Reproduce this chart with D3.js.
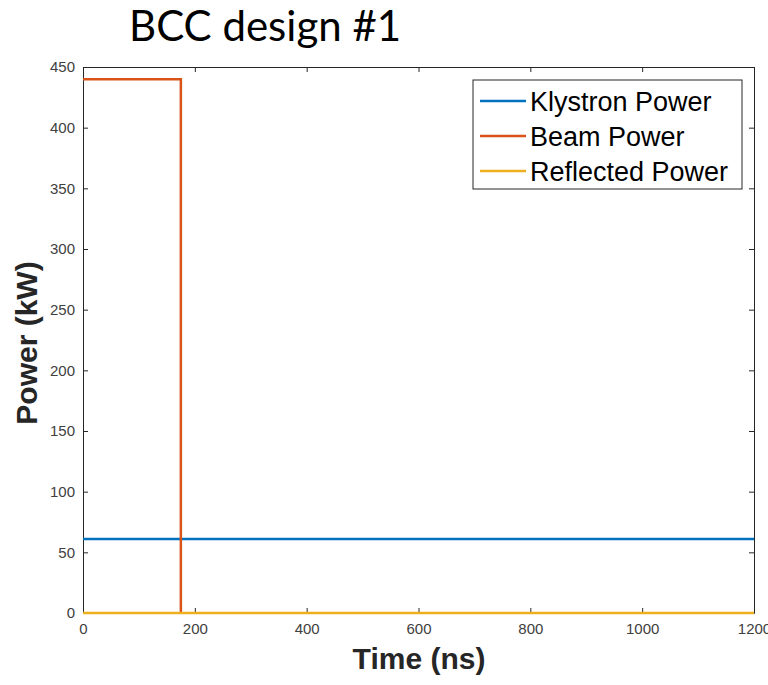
<!DOCTYPE html>
<html><head><meta charset="utf-8">
<script src="https://cdn.jsdelivr.net/npm/d3@7"></script>
<style>body{margin:0;background:#fff}</style>
</head><body>
<svg id="c" width="768" height="685"></svg>
<script>
const title = "BCC design #1";
const xLabel = "Time (ns)";
const yLabel = "Power (kW)";
const seriesNames = ["Klystron Power", "Beam Power", "Reflected Power"];
const seriesColors = ["#0072BD", "#D95319", "#EDB120"];
const klystronT = [0, 1200];
const klystronP = [61, 61];
const beamT = [0, 175, 175];
const beamP = [440, 440, 0];
const reflectedT = [0, 1200];
const reflectedP = [0, 0];
const xTicks = [0, 200, 400, 600, 800, 1000, 1200];
const yTicks = [0, 50, 100, 150, 200, 250, 300, 350, 400, 450];

const svg = d3.select("#c");
const L = 83, R = 754, T = 67, B = 613;
const x = d3.scaleLinear().domain([0, 1200]).range([L, R]);
const y = d3.scaleLinear().domain([0, 450]).range([B, T]);
const axisColor = "#262626";
const tickFont = "Liberation Sans, Arial, sans-serif";

const series = [
  {t: klystronT, p: klystronP},
  {t: beamT, p: beamP},
  {t: reflectedT, p: reflectedP}
];
const line = d3.line().x(d => x(d[0])).y(d => y(d[1]));
const fmt = d3.format("d");
const gx = svg.append("g").attr("transform", `translate(0,${B})`)
  .call(d3.axisBottom(x).tickValues(xTicks).tickFormat(fmt).tickSizeInner(-5).tickSizeOuter(0).tickPadding(10));
const gxt = svg.append("g").attr("transform", `translate(0,${T})`)
  .call(d3.axisTop(x).tickValues(xTicks).tickSizeInner(-5).tickSizeOuter(0).tickFormat(""));
const gy = svg.append("g").attr("transform", `translate(${L},0)`)
  .call(d3.axisLeft(y).tickValues(yTicks).tickFormat(fmt).tickSizeInner(-5).tickSizeOuter(0).tickPadding(8));
const gyr = svg.append("g").attr("transform", `translate(${R},0)`)
  .call(d3.axisRight(y).tickValues(yTicks).tickSizeInner(-5).tickSizeOuter(0).tickFormat(""));
[gx, gxt, gy, gyr].forEach(g => {
  g.selectAll("path,line").attr("stroke", axisColor).attr("stroke-width", 1);
  g.selectAll("text").attr("fill", "#404040").attr("font-family", tickFont).attr("font-size", 15);
});

series.forEach((s, i) => {
  svg.append("path").datum(s.t.map((t, j) => [t, s.p[j]]))
    .attr("d", line).attr("fill", "none")
    .attr("stroke", seriesColors[i]).attr("stroke-width", 2.5);
});

svg.append("text").attr("x", 419).attr("y", 669).attr("text-anchor", "middle")
  .attr("font-family", tickFont).attr("font-weight", "bold").attr("font-size", 30)
  .attr("fill", "#262626").text(xLabel);
svg.append("text").attr("transform", "translate(37,343) rotate(-90)").attr("text-anchor", "middle")
  .attr("font-family", tickFont).attr("font-weight", "bold").attr("font-size", 30)
  .attr("fill", "#262626").text(yLabel);
svg.append("text").attr("x", 129).attr("y", 41)
  .attr("font-family", "Lato, Carlito, sans-serif").attr("font-size", 42)
  .attr("fill", "#000").text(title);

const lg = svg.append("g");
lg.append("rect").attr("x", 473).attr("y", 80).attr("width", 269).attr("height", 109)
  .attr("fill", "#fff").attr("stroke", axisColor).attr("stroke-width", 1);
seriesNames.forEach((n, i) => {
  const yy = 101 + i * 35;
  lg.append("line").attr("x1", 480).attr("x2", 526).attr("y1", yy).attr("y2", yy)
    .attr("stroke", seriesColors[i]).attr("stroke-width", 2.5);
  lg.append("text").attr("x", 530).attr("y", yy + 9.5)
    .attr("font-family", tickFont).attr("font-size", 27).attr("fill", "#000").text(n);
});
</script>
</body></html>
